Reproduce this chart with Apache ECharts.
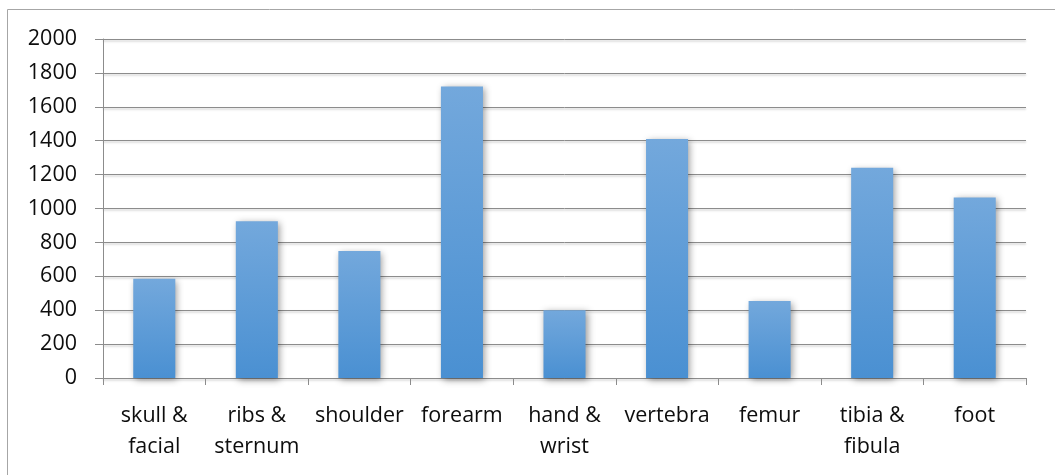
<!DOCTYPE html>
<html>
<head>
<meta charset="utf-8">
<style>
  html, body { margin: 0; padding: 0; background: #fff; }
  #chart { width: 1055px; height: 475px; }
</style>
<script src="https://cdn.jsdelivr.net/npm/echarts@6/dist/echarts.min.js"></script>
</head>
<body>
<div id="chart"></div>
<script>
// Fracture counts by bone region
const categories = ['skull &\nfacial', 'ribs &\nsternum', 'shoulder', 'forearm', 'hand &\nwrist', 'vertebra', 'femur', 'tibia &\nfibula', 'foot'];
const counts = [585, 925, 750, 1720, 400, 1410, 455, 1240, 1065];
const yTicks = { min: 0, max: 2000, interval: 200 };

const chart = echarts.init(document.getElementById('chart'), null, { renderer: 'canvas' });
const textFont = '"Open Sans", sans-serif';

chart.setOption({
  animation: false,
  backgroundColor: '#ffffff',
  graphic: [{
    type: 'rect',
    shape: { x: 7.5, y: 9.5, width: 1100, height: 520 },
    style: { fill: 'none', stroke: '#a6a6a6', lineWidth: 1 },
    silent: true
  }],
  grid: { left: 103, right: 29, top: 39, bottom: 97 },
  xAxis: {
    type: 'category',
    data: categories,
    axisLine: { show: true, lineStyle: { color: '#8c8c8c', width: 1 } },
    axisTick: { show: true, alignWithLabel: false, length: 7, lineStyle: { color: '#8c8c8c' } },
    axisLabel: {
      color: '#0d0d0d', fontSize: 21.5, fontFamily: textFont,
      lineHeight: 31, margin: 22, interval: 0
    }
  },
  yAxis: {
    type: 'value',
    min: yTicks.min, max: yTicks.max, interval: yTicks.interval,
    axisLine: { show: true, lineStyle: { color: '#8c8c8c', width: 1 } },
    axisTick: { show: true, length: 8, lineStyle: { color: '#8c8c8c' } },
    axisLabel: {
      color: '#0d0d0d', fontSize: 21.5, fontFamily: textFont, margin: 26,
      formatter: (v) => String(v)
    },
    splitLine: {
      show: true,
      lineStyle: {
        color: '#8c8c8c', width: 1,
        shadowColor: 'rgba(0,0,0,0.25)', shadowBlur: 2, shadowOffsetY: 1.5
      }
    }
  },
  series: [{
    type: 'bar',
    data: counts,
    barWidth: '41%',
    itemStyle: {
      color: new echarts.graphic.LinearGradient(0, 0, 0, 1, [
        { offset: 0, color: '#73a8dc' },
        { offset: 1, color: '#4a90d2' }
      ]),
      shadowColor: 'rgba(0,0,0,0.4)',
      shadowBlur: 7,
      shadowOffsetX: 2,
      shadowOffsetY: 2
    }
  }]
});
</script>
</body>
</html>
